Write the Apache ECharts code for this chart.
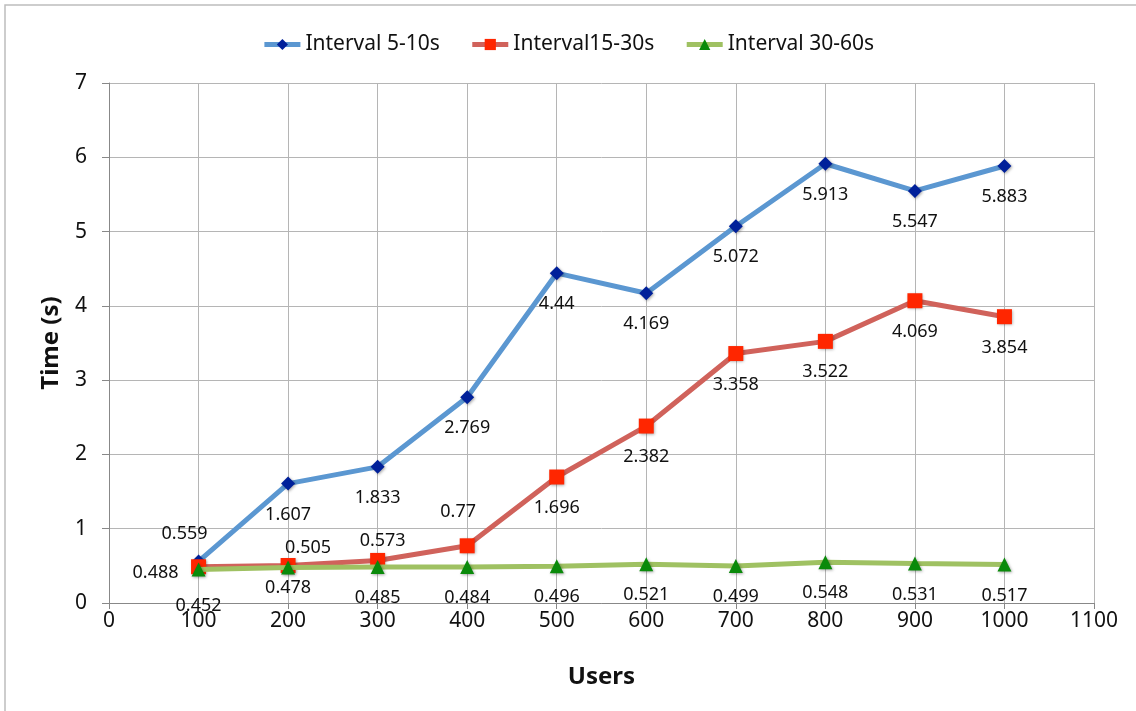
<!DOCTYPE html>
<html>
<head>
<meta charset="utf-8">
<script src="https://cdn.jsdelivr.net/npm/echarts@6/dist/echarts.min.js"></script>
<style>
  html, body { margin: 0; padding: 0; background: #fff; }
  #chart { width: 1136px; height: 711px; }
</style>
</head>
<body>
<div id="chart"></div>
<script>
// Response time per number of users, for three request intervals
const users = [100, 200, 300, 400, 500, 600, 700, 800, 900, 1000];
const interval5to10 = [0.559, 1.607, 1.833, 2.769, 4.44, 4.169, 5.072, 5.913, 5.547, 5.883];
const interval15to30 = [0.488, 0.505, 0.573, 0.77, 1.696, 2.382, 3.358, 3.522, 4.069, 3.854];
const interval30to60 = [0.452, 0.478, 0.485, 0.484, 0.496, 0.521, 0.499, 0.548, 0.531, 0.517];
const seriesNames = ['Interval 5-10s', 'Interval15-30s', 'Interval 30-60s'];

const FONT = '"Noto Sans", sans-serif';

// Label offsets (px, from the point centre); default sits below the marker
const DEFAULT_OFFSET = [0, 31];
const labelOffsets = {
  0: { 0: [-14, -28] },
  1: { 0: [-43, 6], 1: [20, -18], 2: [5, -20], 3: [-9, -34] },
  2: { 0: [0, 36], 1: [0, 20] }
};

function buildData(values, seriesIdx) {
  return values.map((v, i) => {
    const off = (labelOffsets[seriesIdx] && labelOffsets[seriesIdx][i]) || DEFAULT_OFFSET;
    return { value: [users[i], v], label: { offset: off } };
  });
}

const styles = [
  { line: '#5b97d1', marker: '#00209a', symbol: 'diamond', size: 14 },
  { line: '#d0625b', marker: '#ff2600', symbol: 'rect', size: 15 },
  { line: '#9fc162', marker: '#0a8a0a', symbol: 'triangle', size: 14 }
];

const allValues = [interval5to10, interval15to30, interval30to60];

const series = allValues.map((vals, s) => ({
  name: seriesNames[s],
  type: 'line',
  data: buildData(vals, s),
  symbol: styles[s].symbol,
  symbolSize: styles[s].size,
  lineStyle: { color: styles[s].line, width: 5 },
  itemStyle: {
    color: styles[s].marker,
    shadowColor: 'rgba(0,0,0,0.35)',
    shadowBlur: 3,
    shadowOffsetX: 1,
    shadowOffsetY: 1
  },
  label: {
    show: true,
    position: 'inside',
    color: '#111',
    fontFamily: FONT,
    fontSize: 18,
    formatter: p => String(p.value[1])
  },
  emphasis: { disabled: true },
  animation: false,
  z: 2 + s
}));

const chart = echarts.init(document.getElementById('chart'));
chart.setOption({
  backgroundColor: '#fff',
  animation: false,
  graphic: [{
    type: 'rect',
    shape: { x: 5, y: 5, width: 1200, height: 800 },
    style: { fill: 'none', stroke: '#bdbdbd', lineWidth: 1.5 },
    silent: true
  }],
  legend: {
    top: 29,
    left: 'center',
    itemGap: 30,
    itemWidth: 36,
    itemHeight: 14,
    lineStyle: { width: 5 },
    textStyle: { fontFamily: FONT, fontSize: 21, color: '#111' },
    data: seriesNames
  },
  grid: { left: 109, right: 42, top: 83, bottom: 108, containLabel: false },
  xAxis: {
    type: 'value',
    min: 0,
    max: 1100,
    interval: 100,
    name: 'Users',
    nameLocation: 'middle',
    nameGap: 62,
    nameTextStyle: { fontFamily: FONT, fontSize: 24, fontWeight: 'bold', color: '#111' },
    axisLine: { show: true, onZero: false, lineStyle: { color: '#888', width: 1 } },
    axisTick: { show: true, length: 6, lineStyle: { color: '#888' } },
    axisLabel: { fontFamily: FONT, fontSize: 21, color: '#111', margin: 8, formatter: v => String(v) },
    splitLine: { show: true, lineStyle: { color: '#b5b5b5', width: 1 } }
  },
  yAxis: {
    type: 'value',
    min: 0,
    max: 7,
    interval: 1,
    name: 'Time (s)',
    nameLocation: 'middle',
    nameGap: 46,
    nameRotate: 90,
    nameTextStyle: { fontFamily: FONT, fontSize: 24, fontWeight: 'bold', color: '#111' },
    axisLine: { show: true, lineStyle: { color: '#888', width: 1 } },
    axisTick: { show: true, length: 7, lineStyle: { color: '#888' } },
    axisLabel: { fontFamily: FONT, fontSize: 21, color: '#111', margin: 22 },
    splitLine: { show: true, lineStyle: { color: '#b5b5b5', width: 1 } }
  },
  series: series
});
</script>
</body>
</html>
